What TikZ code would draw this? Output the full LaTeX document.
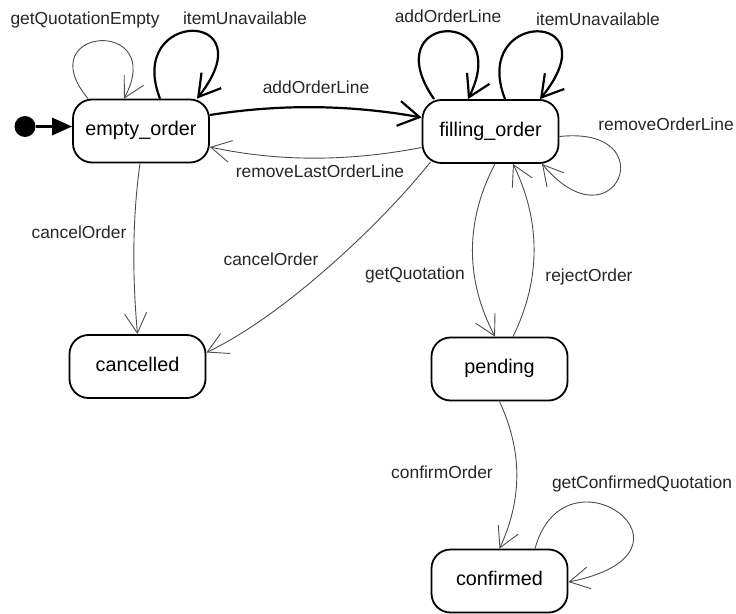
\documentclass[tikz,border=0pt]{standalone}
\usepackage{fontspec}
\setmainfont{Liberation Sans}
\usetikzlibrary{arrows.meta}
\begin{document}
\begin{tikzpicture}[x=1pt,y=-1pt,
  state/.style={draw, line width=1.8pt, rounded corners=19pt,
    minimum width=136pt, minimum height=63pt, inner sep=0pt,
    font=\fontsize{19.8}{24}\selectfont, text height=0.97em, text depth=0pt},
  lbl/.style={inner sep=0pt, font=\fontsize{17.4}{21}\selectfont,
    text height=1.0em, text depth=0pt, text=black!85},
  thinedge/.style={draw=black!70, line width=0.9pt,
    -{Straight Barb[length=20pt,width=22pt]}},
  thickedge/.style={draw=black, line width=2.2pt,
    -{Straight Barb[length=21pt,width=25pt]}},
]
\useasboundingbox (0,0) rectangle (736,613);

% states
\node[state] (eo) at (141,131)   {empty\_order};
\node[state] (fo) at (490.5,131.5) {filling\_order};
\node[state] (ca) at (137.5,366.5) {cancelled};
\node[state] (pe) at (499.5,369)   {pending};
\node[state] (co) at (499.5,581)   {confirmed};

% initial pseudo-state
\node[circle, fill, minimum size=21pt, inner sep=0pt] (init) at (25,126.5) {};
\draw[line width=3pt, -{Triangle[length=20pt,width=17pt]}] (init) -- (init -| eo.west);

% self loops on empty_order
\draw[thinedge] ([xshift=-53pt]eo.north) .. controls +(-60,-72) and +(44,-82) .. ([xshift=-17pt]eo.north);
\draw[thickedge] ([xshift=19pt]eo.north) .. controls +(-35,-90) and +(71,-90) .. ([xshift=56pt]eo.north);

% self loops on filling_order
\draw[thickedge] ([xshift=-56.5pt]fo.north) .. controls +(-60,-87) and +(46,-93) .. ([xshift=-22.5pt]fo.north);
\draw[thickedge] ([xshift=14.5pt]fo.north) .. controls +(-35,-90) and +(73,-90) .. ([xshift=49.5pt]fo.north);
\draw[thinedge] ([yshift=-5pt]fo.east) .. controls +(107,-11.5) and +(73,87) .. ([xshift=51.5pt]fo.south);

% transitions between empty_order and filling_order
\draw[thickedge] ([yshift=16pt]eo.east) .. controls +(70,-11) and +(-73,-13) .. ([yshift=14pt]fo.west);
\draw[thinedge] ([yshift=-16pt]fo.west) .. controls +(-73,14) and +(70,15) .. ([yshift=-16pt]eo.east);

% cancellation
\draw[thinedge] ([xshift=-1pt]eo.south) .. controls +(-8,57) and +(-5,-55) .. (ca.north);
\draw[thinedge] ([xshift=-60pt,yshift=2pt]fo.south) .. controls +(-45,57) and +(80,-38) .. ([yshift=14pt]ca.east);

% quotation cycle
\draw[thinedge] ([xshift=4.5pt]fo.south) .. controls +(-30,57) and +(-30,-57) .. ([xshift=-4.5pt]pe.north);
\draw[thinedge] ([xshift=13.5pt]pe.north) .. controls +(28,-57) and +(28,57) .. ([xshift=22.5pt]fo.south);

% confirmation
\draw[thinedge] (pe.south) .. controls +(23,50) and +(23,-50) .. (co.north);
\draw[thinedge] ([xshift=35.5pt]co.north) .. controls +(30,-109) and +(150,-30) .. ([yshift=-1pt]co.east);

% transition labels
\node[lbl] (lgqe)  at (85,19)   {getQuotationEmpty};
\node[lbl] (liu1)  at (245,19)  {itemUnavailable};
\node[lbl] (laol1) at (448,18)  {addOrderLine};
\node[lbl] (liu2)  at (598,20)  {itemUnavailable};
\node[lbl] (laol2) at (316,88)  {addOrderLine};
\node[lbl] (lrlol) at (320,172) {removeLastOrderLine};
\node[lbl] (lrol)  at (666,125) {removeOrderLine};
\node[lbl] (lco1)  at (79,233)  {cancelOrder};
\node[lbl] (lco2)  at (271,260) {cancelOrder};
\node[lbl] (lgq)   at (415,274) {getQuotation};
\node[lbl] (lro)   at (589,276) {rejectOrder};
\node[lbl] (lcfo)  at (442,473) {confirmOrder};
\node[lbl] (lgcq)  at (642,483) {getConfirmedQuotation};
\end{tikzpicture}
\end{document}
